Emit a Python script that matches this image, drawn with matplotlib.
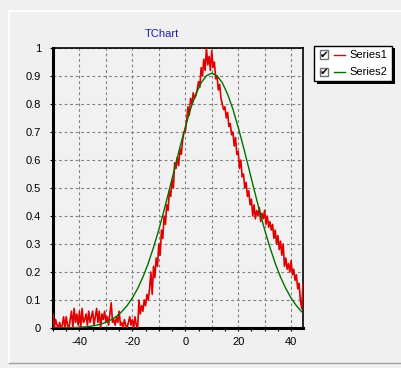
import numpy as np
import matplotlib.pyplot as plt
from matplotlib.ticker import MultipleLocator, FuncFormatter
from matplotlib.patches import Rectangle
from matplotlib.lines import Line2D

# Series1 (noisy), one value every 0.5 from -50 to 44.5
red_y = [
    0.05, 0.00, 0.03, 0.01, 0.00, 0.02, 0.00, 0.01, 0.04, 0.00,
    0.04, 0.01, 0.00, 0.03, 0.06, 0.00, 0.07, 0.02, 0.05, 0.01,
    0.06, 0.00, 0.07, 0.02, 0.03, 0.05, 0.01, 0.06, 0.02, 0.04,
    0.06, 0.01, 0.04, 0.07, 0.02, 0.06, 0.00, 0.05, 0.03, 0.06,
    0.02, 0.04, 0.01, 0.05, 0.09, 0.02, 0.03, 0.01, 0.04, 0.02,
    0.06, 0.01, 0.02, 0.00, 0.03, 0.01, 0.00, 0.02, 0.04, 0.01,
    0.03, 0.00, 0.04, 0.01, 0.00, 0.10, 0.05, 0.08, 0.06, 0.10,
    0.08, 0.12, 0.10, 0.14, 0.20, 0.12, 0.22, 0.18, 0.25, 0.22,
    0.30, 0.26, 0.35, 0.32, 0.40, 0.37, 0.44, 0.42, 0.49, 0.47,
    0.53, 0.50, 0.59, 0.57, 0.61, 0.58, 0.64, 0.62, 0.67, 0.70,
    0.70, 0.74, 0.79, 0.76, 0.82, 0.80, 0.84, 0.82, 0.83, 0.85,
    0.88, 0.86, 0.93, 0.90, 0.96, 0.92, 1.00, 0.94, 0.97, 0.92,
    0.99, 0.93, 0.95, 0.89, 0.90, 0.85, 0.87, 0.82, 0.80, 0.78,
    0.79, 0.75, 0.77, 0.72, 0.73, 0.69, 0.70, 0.65, 0.68, 0.62,
    0.63, 0.57, 0.60, 0.54, 0.55, 0.50, 0.52, 0.47, 0.49, 0.44,
    0.46, 0.40, 0.44, 0.39, 0.42, 0.40, 0.43, 0.38, 0.41, 0.39,
    0.42, 0.37, 0.40, 0.36, 0.38, 0.35, 0.37, 0.32, 0.35, 0.30,
    0.33, 0.28, 0.31, 0.26, 0.30, 0.22, 0.25, 0.21, 0.23, 0.20,
    0.24, 0.19, 0.21, 0.17, 0.19, 0.14, 0.16, 0.10, 0.07, 0.16,
]
red_x = np.arange(-50, 45, 0.5)

# Series2 (smooth curve)
green_x = [-50, -48, -46, -44, -42, -40, -38, -36, -34, -32, -30, -28, -26, -24,
           -22, -20, -18, -16, -14, -12, -10, -8, -6, -4, -2, 0, 2, 4, 6, 8,
           10, 12, 14, 16, 18, 20, 22, 24, 26, 28, 30, 32, 34, 36, 38, 40,
           42, 44, 44.5]
green_y = [0.0002, 0.0003, 0.0005, 0.0009, 0.0015, 0.0024, 0.0038, 0.0059,
           0.0091, 0.0137, 0.0203, 0.0294, 0.0418, 0.0583, 0.0797, 0.107,
           0.141, 0.182, 0.231, 0.288, 0.351, 0.421, 0.495, 0.571, 0.646,
           0.717, 0.782, 0.835, 0.876, 0.901, 0.910, 0.901, 0.876, 0.835,
           0.782, 0.717, 0.646, 0.571, 0.495, 0.421, 0.351, 0.288, 0.231,
           0.182, 0.141, 0.107, 0.0797, 0.0583, 0.0536]

series_names = ['Series1', 'Series2']
series_colors = ['#e00000', '#007000']

plt.rcParams['font.family'] = ['Liberation Sans', 'DejaVu Sans']

W, H = 402, 368
fig = plt.figure(figsize=(W / 100, H / 100), dpi=100, facecolor='#f0f0f0')

def fx(px):
    return px / W

def fy(py):
    return 1 - py / H

# panel borders
fig.add_artist(Line2D([fx(9), 1], [fy(11), fy(11)], color='white', lw=1.2))
fig.add_artist(Line2D([fx(9), fx(9)], [fy(11), fy(363)], color='white', lw=1.2))
fig.add_artist(Line2D([fx(9), 1], [fy(363), fy(363)], color='#a0a0a0', lw=1))

ax = fig.add_axes([fx(53), fy(328), fx(303) - fx(53), fy(48) - fy(328)])
ax.set_facecolor('#f1f1f1')

ax.plot(red_x, red_y, color=series_colors[0], lw=1.2, zorder=3)
ax.plot(green_x, green_y, color=series_colors[1], lw=1, zorder=4)

ax.set_xlim(-50, 44.5)
ax.set_ylim(0, 1)

ax.xaxis.set_major_locator(MultipleLocator(10))
ax.xaxis.set_minor_locator(MultipleLocator(5))
ax.xaxis.set_major_formatter(FuncFormatter(lambda v, p: '%d' % v if round(v) % 20 == 0 else ''))
ax.yaxis.set_major_locator(MultipleLocator(0.1))
ax.yaxis.set_major_formatter(FuncFormatter(lambda v, p: '%g' % round(v, 1)))

ax.grid(True, which='major', color='#808080', linestyle=(0, (2.5, 2.5)), lw=0.8)
ax.set_axisbelow(True)

ax.tick_params(which='both', direction='out', length=2.5, width=0.8, color='black',
               labelsize=8, labelcolor='black')
ax.tick_params(axis='x', pad=4)
ax.tick_params(axis='y', pad=6)

for side in ['left', 'bottom']:
    ax.spines[side].set_linewidth(2.2)
for side in ['top', 'right']:
    ax.spines[side].set_linewidth(1.2)

fig.text(fx(162), fy(34), 'TChart', color='#1c1ca8', fontsize=8, ha='center', va='center')

# legend box with shadow
fig.add_artist(Rectangle((fx(317), fy(84)), fx(78), fy(48) - fy(84), facecolor='black',
                         edgecolor='none'))
fig.add_artist(Rectangle((fx(314), fy(81)), fx(78), fy(46) - fy(81), facecolor='white',
                         edgecolor='black', lw=1))
for i, (name, col) in enumerate(zip(series_names, series_colors)):
    yc = 54.5 + i * 17.5
    fig.add_artist(Rectangle((fx(320), fy(yc + 4)), fx(8), fy(yc - 4) - fy(yc + 4),
                             facecolor='white', edgecolor='#707070', lw=1))
    fig.text(fx(324), fy(yc), '\u2714', fontsize=7.5, ha='center', va='center',
             family='DejaVu Sans', color='black')
    fig.add_artist(Line2D([fx(334), fx(345)], [fy(yc), fy(yc)], color=col, lw=1))
    fig.text(fx(349), fy(yc), name, fontsize=8, va='center', ha='left')

fig.savefig('out.png', dpi=100, facecolor=fig.get_facecolor())
